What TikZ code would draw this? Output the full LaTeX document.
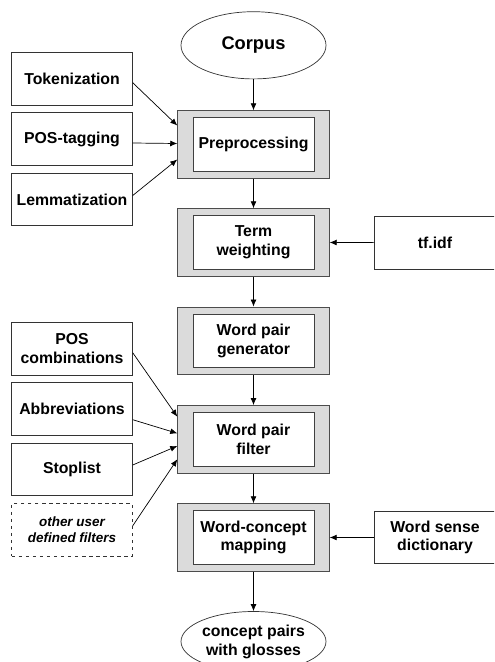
\documentclass[tikz,border=0pt]{standalone}
\usepackage{fontspec}
\setmainfont{Liberation Sans}
\usetikzlibrary{shapes.geometric,arrows.meta,calc}

\begin{document}
\begin{tikzpicture}[x=0.03cm, y=-0.03cm,
	every node/.style={font=\fontsize{13.5}{16}\selectfont\bfseries, align=center, inner sep=0pt},
	source/.style={draw=black!80, line width=0.7pt, minimum width=3.618cm, minimum height=1.581cm},
	userfilter/.style={source, dashed, font=\fontsize{11.5}{13.4}\selectfont\bfseries\itshape},
	stage/.style={draw=black!70, fill=black!14, line width=0.7pt, minimum width=4.548cm, minimum height=2.028cm},
	stagetext/.style={draw=black!75, fill=white, line width=0.7pt, minimum width=3.63cm, minimum height=1.602cm},
	terminal/.style={ellipse, draw=black!80, line width=0.6pt, minimum width=4.35cm, inner xsep=-10pt},
	flow/.style={draw=black, line width=0.6pt, -{Latex[length=6pt,width=5pt]}}]
		\clip (0,0) rectangle (494,662);
		\node[terminal, minimum height=2.016cm, font=\fontsize{15.6}{18}\selectfont\bfseries] (corpus) at (253.5,45.3) {Corpus};
		\node[source] (tok) at (72,78.7) {Tokenization};
		\node[source] (pos) at (72,139) {POS-tagging};
		\node[source] (lem) at (72,199.5) {Lemmatization};
		\node[source] (posc) at (72,348.7) {POS\\combinations};
		\node[source] (abbr) at (72,408.7) {Abbreviations};
		\node[source] (stop) at (72,469.5) {Stoplist};
		\node[userfilter] (other) at (72,529.8) {other user\\defined filters};
		\node[source] (tfidf) at (435,242.6) {tf.idf};
		\node[source] (wsd) at (435,537.5) {Word sense\\dictionary};
		\node[stage] (pre) at (253.5,144.5) {};
		\node[stagetext] (pre-in) at (pre) {Preprocessing};
		\node[stage] (tw) at (253.5,242.5) {};
		\node[stagetext] (tw-in) at (tw) {Term\\weighting};
		\node[stage] (wpg) at (253.5,340.8) {};
		\node[stagetext] (wpg-in) at (wpg) {Word pair\\generator};
		\node[stage] (wpf) at (253.5,439.3) {};
		\node[stagetext] (wpf-in) at (wpf) {Word pair\\filter};
		\node[stage] (wcm) at (253.5,537.5) {};
		\node[stagetext] (wcm-in) at (wcm) {Word-concept\\mapping};
		\node[terminal, minimum height=1.8cm, font=\fontsize{13.5}{16.2}\selectfont\bfseries] (gloss) at (253.5,641.5) {concept pairs\\with glosses};
		\draw[flow] (corpus.south) -- (pre.north);
		\draw[flow] ($(tok.east)+(0,4)$) -- ($(pre.west)+(0,-19)$);
		\draw[flow] ($(pos.east)+(0,4)$) -- ($(pre.west)+(0,-1)$);
		\draw[flow] ($(lem.east)+(0,-4)$) -- ($(pre.west)+(0,15)$);
		\draw[flow] (pre.south) -- (tw.north);
		\draw[flow] (tfidf.west) -- (tw.east);
		\draw[flow] (tw.south) -- (wpg.north);
		\draw[flow] (wpg.south) -- (wpf.north);
		\draw[flow] ($(posc.east)+(0,4)$) -- ($(wpf.west)+(0,-22.6)$);
		\draw[flow] ($(abbr.east)+(0,11)$) -- ($(wpf.west)+(0,-6)$);
		\draw[flow] ($(stop.east)+(0,-4.5)$) -- ($(wpf.west)+(0,6.7)$);
		\draw[flow] ($(other.east)+(0,-4)$) -- ($(wpf.west)+(0,20)$);
		\draw[flow] (wpf.south) -- (wcm.north);
		\draw[flow] (wsd.west) -- (wcm.east);
		\draw[flow] (wcm.south) -- (gloss.north);
	\end{tikzpicture}
\end{document}
